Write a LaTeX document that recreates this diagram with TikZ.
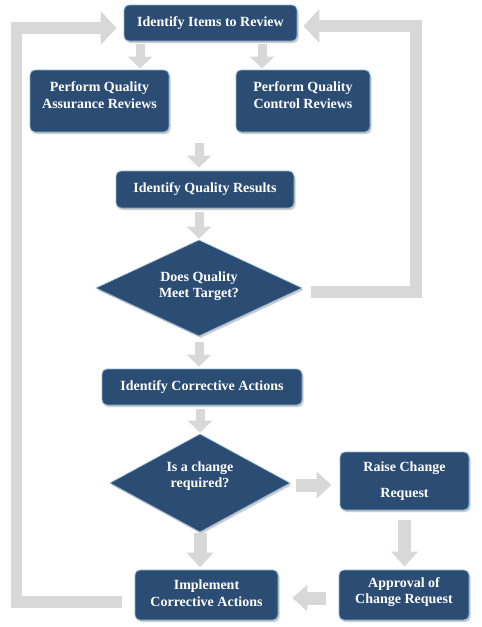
\documentclass[tikz,border=0pt]{standalone}
\usepackage{fontspec}
\setmainfont{Liberation Serif}
\usetikzlibrary{arrows.meta,shapes.geometric,shadows,calc}
\definecolor{boxblue}{RGB}{43,76,115}
\definecolor{boxedge}{RGB}{140,180,215}
\definecolor{agray}{RGB}{216,216,216}
\begin{document}
\begin{tikzpicture}[x=1pt,y=-1pt,
  shade/.style={drop shadow={shadow xshift=1.5pt,shadow yshift=-2pt,opacity=0.45,fill=black!45}},
  box/.style={draw=boxedge,line width=0.8pt,fill=boxblue,rounded corners=5pt,shade,
    text=white,font=\bfseries\fontsize{14}{16.5}\selectfont,align=center,inner sep=0pt},
  dia/.style={diamond,draw=boxedge,line width=0.6pt,fill=boxblue,shade,inner sep=0pt,aspect=2},
  txt/.style={text=white,font=\bfseries\fontsize{14}{16.5}\selectfont,align=center,inner sep=0pt},
  sarr/.style={draw=agray,line width=9pt,-{Triangle[width=24pt,length=12pt]}},
  marr/.style={draw=agray,line width=13pt,-{Triangle[width=26pt,length=15pt]}},
  larr/.style={draw=agray,line width=11.5pt,line join=miter,-{Triangle[width=33pt,length=16pt]}}]
\useasboundingbox[fill=white] (0,0) rectangle (482,627);

% nodes
\node[box,minimum width=173pt,minimum height=36pt] (items) at (210.5,23) {Identify Items to Review};
\node[box,minimum width=139pt,minimum height=62pt] (qa) at (99.5,101) {};
\node[txt] (qat) at (99.5,95) {Perform Quality\\Assurance Reviews};
\node[box,minimum width=134pt,minimum height=62pt] (qc) at (303,101) {};
\node[txt] (qct) at (303,95) {Perform Quality\\Control Reviews};
\node[box,minimum width=178pt,minimum height=37pt] (results) at (205,189.5) {Identify Quality Results};
\node[dia,minimum width=206pt,minimum height=96pt] (d1) at (199,288) {};
\node[txt] (d1t) at (199,286) {Does Quality\\Meet Target?};
\node[box,minimum width=200pt,minimum height=36pt] (corr) at (202,387) {Identify Corrective Actions};
\node[dia,minimum width=180pt,minimum height=98pt] (d2) at (200,483) {};
\node[txt] (d2t) at (200,476) {Is a change\\required?};
\node[box,minimum width=129pt,minimum height=58pt] (raise) at (404.5,481) {Raise Change\\[9pt]Request};
\node[box,minimum width=130pt,minimum height=50pt] (appr) at (404,595) {};
\node[txt] (apprt) at (404,592) {Approval of\\Change Request};
\node[box,minimum width=143pt,minimum height=50pt] (impl) at (206.5,595) {};
\node[txt] (implt) at (206.5,593) {Implement\\Corrective Actions};

% helper coordinates
\coordinate (xa) at (140,0);
\coordinate (xb) at (262,0);
\coordinate (xc) at (199,0);
\coordinate (lx) at (16.5,0);
\coordinate (rx) at (416,0);

% arrows
\draw[sarr] ($(items.south -| xa)+(0,3)$) -- ($(qa.north -| xa)+(0,-1)$);
\draw[sarr] ($(items.south -| xb)+(0,3)$) -- ($(qc.north -| xb)+(0,-1)$);
\draw[sarr] ($(qa.south -| xc)+(0,11)$) -- ($(results.north -| xc)+(0,-3)$);
\draw[sarr] ($(results.south -| xc)+(0,4)$) -- ($(d1.north)+(0,-1)$);
\draw[sarr] ($(d1.south)+(0,6)$) -- ($(corr.north -| d1)+(0,-2)$);
\draw[sarr] ($(corr.south -| d2)+(0,4)$) -- ($(d2.north)+(0,-1)$);
\draw[marr] ($(d2.south)+(0,1)$) -- ($(impl.north -| d2)+(0,-2)$);
\coordinate (p8) at ($(d2.east)+(6,2)$);
\draw[marr] (p8) -- ($(raise.west |- p8)+(-8,0)$);
\draw[marr] ($(raise.south)+(0,10)$) -- ($(appr.north -| raise)+(0,-3)$);
\coordinate (p10) at ($(appr.west)+(-13,3)$);
\draw[marr] (p10) -- ($(impl.east |- p10)+(14,0)$);
\coordinate (p11) at ($(impl.west)+(-13,7)$);
\coordinate (q11) at ($(items.west)+(-7,5)$);
\draw[larr] (p11) -- (p11 -| lx) -- (lx |- q11) -- (q11);
\coordinate (p12) at ($(d1.east)+(9,4)$);
\coordinate (q12) at ($(items.east)+(6,3)$);
\draw[larr] (p12) -- (p12 -| rx) -- (rx |- q12) -- (q12);
\end{tikzpicture}
\end{document}
